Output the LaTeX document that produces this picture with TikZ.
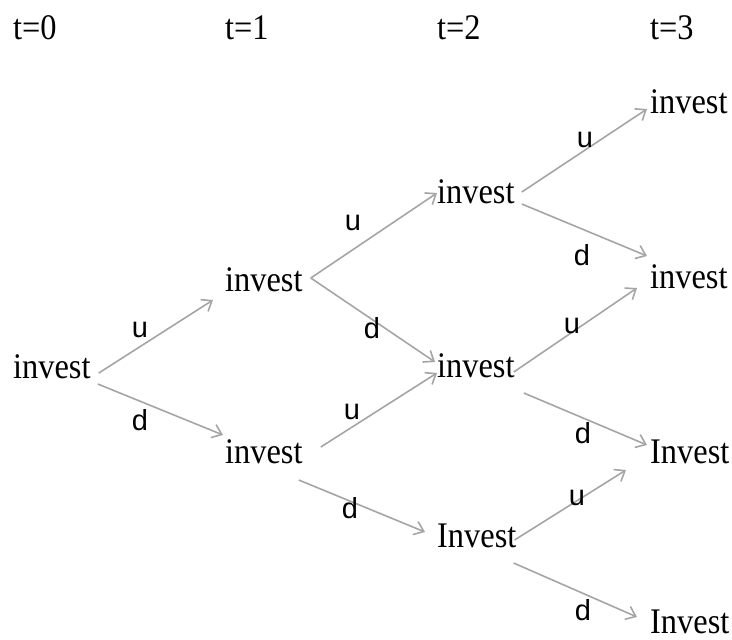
\documentclass[tikz,border=0pt]{standalone}
\usepackage{fontspec}
\setmainfont{Liberation Serif}[FakeStretch=0.9]
\newfontfamily\labfont{Liberation Sans}
\usetikzlibrary{arrows.meta,calc}
\definecolor{edgegray}{RGB}{165,165,165}
\begin{document}
\begin{tikzpicture}[x=1pt,y=-1pt,
  st/.style={anchor=base west,inner sep=0pt,font=\fontsize{36}{36}\selectfont},
  lab/.style={inner sep=0pt,font=\labfont\fontsize{29}{29}\selectfont},
  edge/.style={draw=edgegray,line width=1.6pt,-{Straight Barb[length=9pt,width=14pt]}}]
\useasboundingbox (0,0) rectangle (732,640);
% headers
\node[st] (h0) at (13,39) {t=0};
\node[st] (h1) at (225,39) {t=1};
\node[st] (h2) at (437,39) {t=2};
\node[st] (h3) at (650,39) {t=3};
% tree nodes
\node[st] (a)  at (13,378)  {invest};
\node[st] (b1) at (225,291) {invest};
\node[st] (b2) at (225,463) {invest};
\node[st] (c1) at (437,203) {invest};
\node[st] (c2) at (437,377) {invest};
\node[st] (c3) at (437,547) {Invest};
\node[st] (d1) at (650,113) {invest};
\node[st] (d2) at (650,288) {invest};
\node[st] (d3) at (650,463) {Invest};
\node[st] (d4) at (650,633) {Invest};
% connectors
\draw[edge] ($(a.base east)+(8,-5)$) -- ($(b1.base west)+(-12,9)$);
\draw[edge] ($(a.base east)+(7,6)$) -- ($(b2.base west)+(-2,-28)$);
\draw[edge] ($(b1.base east)+(8,-13)$) -- ($(c1.base west)+(0,-10)$);
\draw[edge] ($(b1.base east)+(8,-13)$) -- ($(c2.base west)+(-2,-15)$);
\draw[edge] ($(b2.base east)+(18,-16)$) -- ($(c2.base west)+(0,-4)$);
\draw[edge] ($(b2.base east)+(-4,17)$) -- ($(c3.base west)+(-12,-15)$);
\draw[edge] ($(c1.base east)+(7,-11)$) -- ($(d1.base west)+(-3,-4)$);
\draw[edge] ($(c1.base east)+(7,1)$) -- ($(d2.base west)+(-3,-32)$);
\draw[edge] ($(c2.base east)+(-1,-5)$) -- ($(d2.base west)+(-13,0)$);
\draw[edge] ($(c2.base east)+(9,16)$) -- ($(d3.base west)+(-3,-18)$);
\draw[edge] ($(c3.base east)+(-2,-7)$) -- ($(d3.base west)+(-24,7)$);
\draw[edge] ($(c3.base east)+(-3,16)$) -- ($(d4.base west)+(-13,-16)$);
% labels
\node[lab] (la-u)  at (140,330) {u};
\node[lab] (la-d)  at (140,420) {d};
\node[lab] (lb1-u) at (353,223) {u};
\node[lab] (lb1-d) at (372,328) {d};
\node[lab] (lb2-u) at (352,412) {u};
\node[lab] (lb2-d) at (350,508) {d};
\node[lab] (lc1-u) at (585,140) {u};
\node[lab] (lc1-d) at (582,255) {d};
\node[lab] (lc2-u) at (572,326) {u};
\node[lab] (lc2-d) at (583,433) {d};
\node[lab] (lc3-u) at (577,498) {u};
\node[lab] (lc3-d) at (583,610) {d};
\end{tikzpicture}
\end{document}
